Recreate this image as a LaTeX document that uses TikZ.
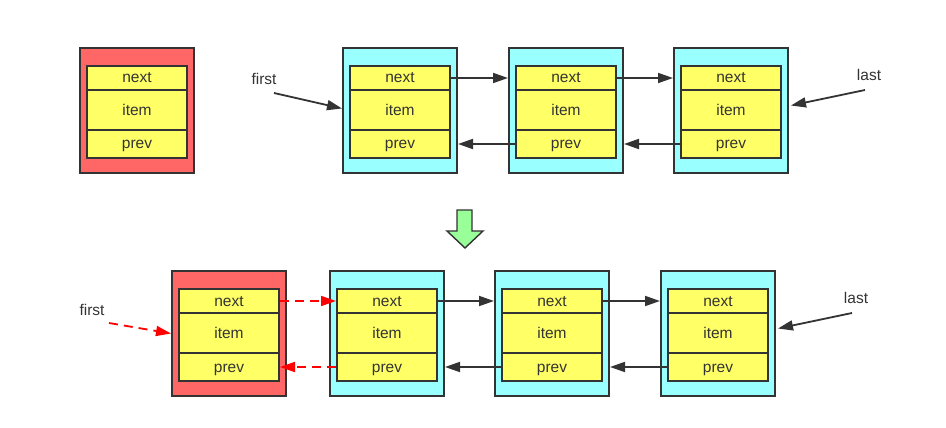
\documentclass[tikz,border=0pt]{standalone}
\usepackage{fontspec}
\setmainfont{Liberation Sans}
\usetikzlibrary{arrows.meta}
\definecolor{ink}{HTML}{333333}
\definecolor{redbox}{HTML}{FF6666}
\definecolor{cyanbox}{HTML}{99FFFF}
\definecolor{yel}{HTML}{FFFF66}
\definecolor{grn}{HTML}{99FF99}
\tikzset{
  outer/.style={draw=ink,line width=2pt,minimum width=114pt,minimum height=125pt,inner sep=0pt},
  field/.style={draw=ink,line width=2pt,fill=yel,minimum width=100pt,inner sep=0pt,text=ink,font=\fontsize{15.5}{18}\selectfont,text height=10pt,text depth=0pt},
  lab/.style={text=ink,font=\fontsize{15.5}{18}\selectfont,inner sep=0pt},
  link/.style={draw=ink,line width=1.8pt,-{Triangle[length=15pt,width=10pt]}},
  newlink/.style={draw=red,line width=1.8pt,dash pattern=on 9pt off 6pt,-{Triangle[length=15pt,width=10pt]}},
}
\newcommand\rec[4]{%
  \node[outer,fill=#4] (#1) at ({#2+57},{#3+62.5}) {};
  \node[field,minimum height=24pt] (#1-n) at ({#2+57},{#3+30}) {next};
  \node[field,minimum height=40pt] (#1-i) at ({#2+57},{#3+62}) {item};
  \node[field,minimum height=28pt] (#1-p) at ({#2+57},{#3+96}) {prev};
}
\begin{document}
\begin{tikzpicture}[x=1pt,y=-1pt]
\path[use as bounding box] (0,0) rectangle (946,428);
% top row
\rec{t0}{80}{48}{redbox}
\rec{t1}{343}{48}{cyanbox}
\rec{t2}{509}{48}{cyanbox}
\rec{t3}{674}{48}{cyanbox}
\node[lab] (tfirst) at (264,79) {first};
\node[lab] (tlast) at (869,75) {last};
\coordinate (tf0) at (274,93);
\coordinate (tl0) at (865,90);
\draw[link] (tf0) -- ([yshift=2pt]t1.west);
\draw[link] (tl0) -- ([xshift=2pt,yshift=5pt]t3.east);
\draw[link] (t1-n.east) -- (t2.west |- t1-n.east);
\draw[link] (t2-n.east) -- (t3.west |- t2-n.east);
\draw[link] (t2-p.west) -- (t1.east |- t2-p.west);
\draw[link] (t3-p.west) -- (t2.east |- t3-p.west);
% transition arrow
\draw[ink,line width=1.4pt,fill=grn,line join=miter] (457,210) -- (472,210) -- (472,231) -- (483,231) -- (465,248) -- (447,231) -- (457,231) -- cycle;
% bottom row
\rec{b0}{172}{271}{redbox}
\rec{b1}{330}{271}{cyanbox}
\rec{b2}{495}{271}{cyanbox}
\rec{b3}{661}{271}{cyanbox}
\node[lab] (bfirst) at (92,310) {first};
\node[lab] (blast) at (856,298) {last};
\coordinate (bf0) at (109,323);
\coordinate (bl0) at (852,313);
\draw[newlink] (bf0) -- (b0.west);
\draw[link] (bl0) -- ([xshift=2pt,yshift=5pt]b3.east);
\draw[newlink] (b0-n.east) -- (b1-n.west);
\draw[newlink] (b1-p.west) -- (b0-p.east);
\draw[link] (b1-n.east) -- (b2.west |- b1-n.east);
\draw[link] (b2-n.east) -- (b3.west |- b2-n.east);
\draw[link] (b2-p.west) -- (b1.east |- b2-p.west);
\draw[link] (b3-p.west) -- (b2.east |- b3-p.west);
\end{tikzpicture}
\end{document}
